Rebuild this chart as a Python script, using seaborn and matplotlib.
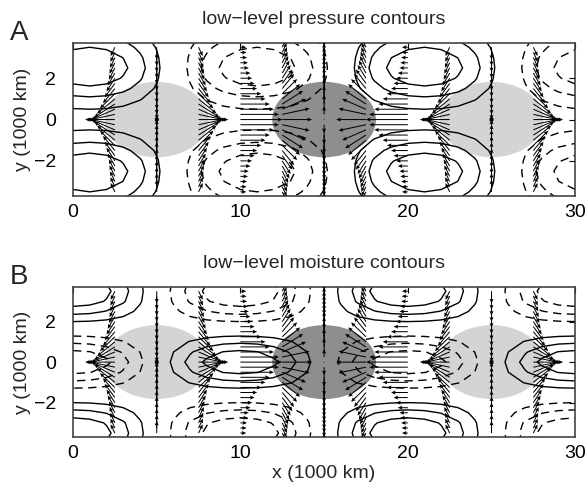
import numpy as np
import matplotlib
matplotlib.use('agg')
import matplotlib.pyplot as plt
from matplotlib.patches import Ellipse
import seaborn as sns

# contour grid nodes (1000 km)
x_nodes = np.arange(0, 31, 1.0)
y_nodes = np.arange(-4, 4.01, 0.5)

# zonal structure (one value per 1000 km)
cos_x = [1.0, 0.95, 0.81, 0.59, 0.31, 0.0, -0.31, -0.59, -0.81, -0.95,
         -1.0, -0.95, -0.81, -0.59, -0.31, 0.0, 0.31, 0.59, 0.81, 0.95,
         1.0, 0.95, 0.81, 0.59, 0.31, 0.0, -0.31, -0.59, -0.81, -0.95, -1.0]
# pressure gyres sit ~1000 km east of the moisture ones
cos_x_shift = [0.95, 1.0, 0.95, 0.81, 0.59, 0.31, 0.0, -0.31, -0.59, -0.81,
               -0.95, -1.0, -0.95, -0.81, -0.59, -0.31, 0.0, 0.31, 0.59, 0.81,
               0.95, 1.0, 0.95, 0.81, 0.59, 0.31, 0.0, -0.31, -0.59, -0.81, -0.95]

# meridional profiles, y = -4 ... 4 every 500 km
p_y = [0.55, 0.75, 0.92, 1.0, 0.9, 0.7, 0.45, 0.25, 0.1,
       0.25, 0.45, 0.7, 0.9, 1.0, 0.92, 0.75, 0.55]
q_y = [0.9, 1.0, 0.9, 0.6, 0.25, -0.1, -0.45, -0.8, -1.0,
       -0.8, -0.45, -0.1, 0.25, 0.6, 0.9, 1.0, 0.9]

# wind arrows: columns every 2500 km, rows every 250 km
wind_x = np.arange(0, 30.1, 2.5)
wind_y = np.arange(-3.5, 3.51, 0.25)
u_col = [-1.0, -0.71, 0.0, 0.71, 1.0, 0.71, 0.0, -0.71, -1.0, -0.71, 0.0, 0.71, 1.0]
v_col = [0.0, -0.71, -1.0, -0.71, 0.0, 0.71, 1.0, 0.71, 0.0, -0.71, -1.0, -0.71, 0.0]
u_row = [0.35, 0.37, 0.4, 0.45, 0.5, 0.6, 0.7, 0.85, 1.0, 1.25, 1.5, 1.75, 2.0, 2.3, 2.5,
         2.3, 2.0, 1.75, 1.5, 1.25, 1.0, 0.85, 0.7, 0.6, 0.5, 0.45, 0.4, 0.37, 0.35]
v_row = [-0.6, -0.65, -0.7, -0.75, -0.8, -0.85, -0.9, -0.95, -1.0, -1.0, -1.0, -0.9, -0.7, -0.4, 0.0,
         0.4, 0.7, 0.9, 1.0, 1.0, 1.0, 0.95, 0.9, 0.85, 0.8, 0.75, 0.7, 0.65, 0.6]

# heating (dark) / cooling (light) regions
heat_x = [5, 15, 25]
heat_color = ['#d4d4d4', '#8e8e8e', '#d4d4d4']
heat_w, heat_h = 6.2, 3.65

levels = [-0.75, -0.5, -0.25, 0.25, 0.5, 0.75]
titles = ['low\u2212level pressure contours', 'low\u2212level moisture contours']
panel_tags = ['A', 'B']

pressure = np.outer(p_y, cos_x_shift)
moisture = np.outer(q_y, cos_x)
u_wind = np.outer(u_row, u_col)
v_wind = np.outer(v_row, v_col)

sns.set_theme(style='white')
plt.rcParams['font.family'] = ['Liberation Sans', 'DejaVu Sans']

fig = plt.figure(figsize=(5.86, 4.90), dpi=100)
boxes = [[0.1246, 0.600, 0.857, 0.312], [0.1246, 0.108, 0.857, 0.306]]
fields = [pressure, moisture]
WX, WY = np.meshgrid(wind_x, wind_y)

for i in range(2):
    ax = fig.add_axes(boxes[i])
    for xc, col in zip(heat_x, heat_color):
        ax.add_patch(Ellipse((xc, 0), heat_w, heat_h, color=col, lw=0, zorder=0))
    f = fields[i]
    ax.contour(x_nodes, y_nodes, f, levels=[l for l in levels if l > 0],
               colors='black', linewidths=1.0, linestyles='solid')
    ax.contour(x_nodes, y_nodes, f, levels=[l for l in levels if l < 0],
               colors='black', linewidths=1.0, linestyles=[(0, (6, 4))])
    ax.quiver(WX, WY, u_wind, v_wind, angles='xy', scale_units='xy', scale=1,
              width=0.002, headwidth=4, headlength=4.5, headaxislength=4,
              color='black', zorder=3)
    ax.set_xlim(0, 30)
    ax.set_ylim(-3.7, 3.7)
    ax.set_xticks([0, 10, 20, 30])
    ax.set_yticks([-2, 0, 2])
    ax.set_yticklabels(['\u22122', '0', '2'])
    ax.tick_params(direction='in', length=4, width=0.8, top=True, right=True,
                   labelsize=14, colors='black')
    ax.tick_params(axis='x', pad=6)
    ax.tick_params(axis='y', pad=12)
    for s in ax.spines.values():
        s.set_color('#444444')
        s.set_linewidth(1.2)
    ax.set_title(titles[i], fontsize=14, pad=14)
    ax.set_ylabel('y (1000 km)', fontsize=14, labelpad=2)
    ax.text(-0.125, 1.02, panel_tags[i], transform=ax.transAxes, fontsize=20,
            ha='left', va='baseline')
    if i == 1:
        ax.set_xlabel('x (1000 km)', fontsize=14, labelpad=2)

fig.savefig('out.png', dpi=100)
